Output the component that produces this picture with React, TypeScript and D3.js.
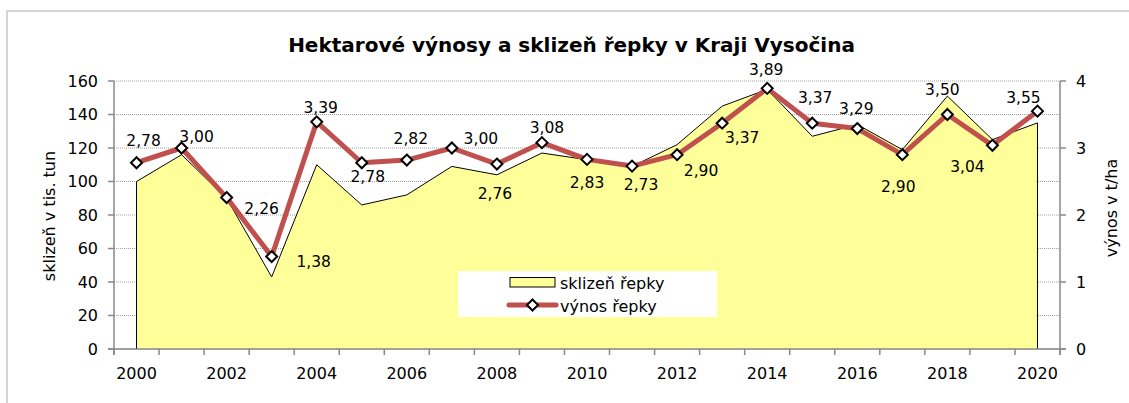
import React from "react";
import * as d3 from "d3";

const years = [2000, 2001, 2002, 2003, 2004, 2005, 2006, 2007, 2008, 2009, 2010, 2011, 2012, 2013, 2014, 2015, 2016, 2017, 2018, 2019, 2020];
const harvest = [100, 116, 90, 43, 110, 86, 92, 109, 104, 117, 113, 109, 122, 145, 155, 127, 134, 119, 151, 125, 135];
const yieldVals = [2.78, 3.0, 2.26, 1.38, 3.39, 2.78, 2.82, 3.0, 2.76, 3.08, 2.83, 2.73, 2.9, 3.37, 3.89, 3.37, 3.29, 2.9, 3.5, 3.04, 3.55];
const leftTicks = [0, 20, 40, 60, 80, 100, 120, 140, 160];
const rightTicks = [0, 1, 2, 3, 4];
const xLabelYears = [2000, 2002, 2004, 2006, 2008, 2010, 2012, 2014, 2016, 2018, 2020];
// label offsets (dx, dy) relative to marker, in px
const labelOffsets: [number, number][] = [
  [7, -22], [15, -12], [35, 11], [42, 5], [4, -14], [6, 14], [4, -22], [29, -10], [-2, 29], [5, -15],
  [0, 23], [9, 18], [24, 16], [20, 14], [-1, -19], [3, -26], [-1, -20], [-4, 32], [-5, -25], [-25, 21], [-14, -14],
];

const W = 1129, H = 403;
const plotL = 114, plotR = 1060, plotT = 81, plotB = 349;
const FONT = "'DejaVu Sans', sans-serif";
const RED = "#c0504d";

function Diamond({ x, y }: { x: number; y: number }) {
  const r = 5.5;
  return (
    <path
      d={`M${x},${y - r}L${x + r},${y}L${x},${y + r}L${x - r},${y}Z`}
      fill="#fff"
      stroke="#000"
      strokeWidth={2}
    />
  );
}

export default function App() {
  const xBand = d3.scaleBand<number>().domain(years).range([plotL, plotR]).padding(0);
  const xc = (yr: number) => (xBand(yr) as number) + xBand.bandwidth() / 2;
  const yL = d3.scaleLinear().domain([0, 160]).range([plotB, plotT]);
  const yR = d3.scaleLinear().domain([0, 4]).range([plotB, plotT]);

  const area = d3
    .area<number>()
    .x((_, i) => xc(years[i]))
    .y0(plotB)
    .y1((d) => yL(d));
  const areaOutline = d3
    .line<number>()
    .x((_, i) => xc(years[i]))
    .y((d) => yL(d));
  const outlinePath =
    `M${xc(years[0])},${plotB}L` +
    (areaOutline(harvest) as string).slice(1) +
    `L${xc(years[years.length - 1])},${plotB}`;
  const line = d3
    .line<number>()
    .x((_, i) => xc(years[i]))
    .y((d) => yR(d));

  const boundaries = years.map((y) => xBand(y) as number).concat([plotR]);
  const fmt = (v: number) => v.toFixed(2).replace(".", ",");

  return (
    <svg width={W} height={H} style={{ position: "absolute", left: 0, top: 0, background: "#fff" }} fontFamily={FONT}>
      <rect x={0} y={0} width={W} height={H} fill="#fff" />
      <rect x={7} y={11} width={W + 20} height={H + 20} fill="none" stroke="#c8c8c8" strokeWidth={1.5} />
      <text x={571.5} y={52} textAnchor="middle" fontSize={20} fontWeight="bold" fill="#000">
        Hektarové výnosy a sklizeň řepky v Kraji Vysočina
      </text>

      {/* gridlines */}
      {leftTicks.map((t) => (
        <line key={"g" + t} x1={plotL} x2={plotR} y1={yL(t)} y2={yL(t)} stroke="#a0a0a0" strokeWidth={1} strokeDasharray="1,1" />
      ))}

      {/* area */}
      <path d={area(harvest) as string} fill="#ffff99" stroke="none" />
      <path d={outlinePath} fill="none" stroke="#000" strokeWidth={1} />

      {/* axes */}
      <line x1={plotL} x2={plotL} y1={plotT} y2={plotB + 6} stroke="#888" strokeWidth={1.5} />
      <line x1={plotR} x2={plotR} y1={plotT} y2={plotB + 6} stroke="#888" strokeWidth={1.5} />
      <line x1={plotL - 6} x2={plotR + 6} y1={plotB} y2={plotB} stroke="#888" strokeWidth={1.5} />
      {leftTicks.map((t) => (
        <g key={"lt" + t}>
          <line x1={plotL - 6} x2={plotL} y1={yL(t)} y2={yL(t)} stroke="#888" strokeWidth={1.5} />
          <text x={plotL - 16} y={yL(t)} dy="0.36em" textAnchor="end" fontSize={16} fill="#000">
            {t}
          </text>
        </g>
      ))}
      {rightTicks.map((t) => (
        <g key={"rt" + t}>
          <line x1={plotR} x2={plotR + 6} y1={yR(t)} y2={yR(t)} stroke="#888" strokeWidth={1.5} />
          <text x={plotR + 16} y={yR(t)} dy="0.36em" textAnchor="start" fontSize={16} fill="#000">
            {t}
          </text>
        </g>
      ))}
      {boundaries.map((b, i) => (
        <line key={"xt" + i} x1={b} x2={b} y1={plotB} y2={plotB + 6} stroke="#888" strokeWidth={1.5} />
      ))}
      {xLabelYears.map((yr) => (
        <text key={"xl" + yr} x={xc(yr)} y={379} textAnchor="middle" fontSize={16} fill="#000">
          {yr}
        </text>
      ))}

      {/* axis titles */}
      <text transform={`translate(55,216) rotate(-90)`} textAnchor="middle" fontSize={16} fill="#000">
        sklizeň v tis. tun
      </text>
      <text transform={`translate(1117,208) rotate(-90)`} textAnchor="middle" fontSize={16} fill="#000">
        výnos v t/ha
      </text>

      {/* yield line */}
      <path d={line(yieldVals) as string} fill="none" stroke={RED} strokeWidth={5} strokeLinejoin="round" />
      {yieldVals.map((v, i) => (
        <Diamond key={"m" + i} x={xc(years[i])} y={yR(v)} />
      ))}
      {yieldVals.map((v, i) => (
        <text
          key={"lb" + i}
          x={xc(years[i]) + labelOffsets[i][0]}
          y={yR(v) + labelOffsets[i][1]}
          dy="0.36em"
          textAnchor="middle"
          fontSize={15.5}
          fill="#000"
        >
          {fmt(v)}
        </text>
      ))}

      {/* legend */}
      <rect x={458} y={271} width={259} height={46} fill="#fff" />
      <rect x={510} y={277.5} width={45} height={9.5} fill="#ffff99" stroke="#000" strokeWidth={1} />
      <text x={560} y={283} dy="0.36em" fontSize={16} fill="#000">
        sklizeň řepky
      </text>
      <line x1={509} x2={556} y1={305} y2={305} stroke={RED} strokeWidth={5} strokeLinecap="round" />
      <Diamond x={532.5} y={305} />
      <text x={560} y={306} dy="0.36em" fontSize={16} fill="#000">
        výnos řepky
      </text>
    </svg>
  );
}
